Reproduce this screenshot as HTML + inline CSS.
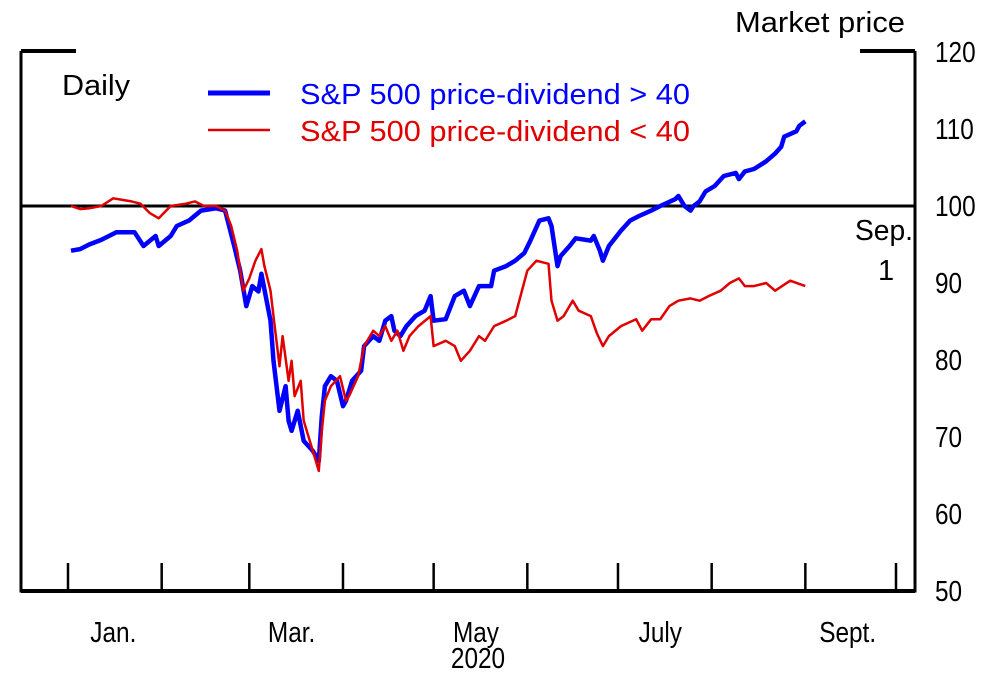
<!DOCTYPE html>
<html><head><meta charset="utf-8"><style>
html,body{margin:0;padding:0;background:#fff;}
svg{display:block;font-family:"Liberation Sans Narrow","Liberation Sans",sans-serif;}
</style></head><body>
<svg id="chart" width="1000" height="682" viewBox="0 0 1000 682" xmlns="http://www.w3.org/2000/svg">
<g id="frame"></g>
<g id="ylabels"></g>
<g id="xlabels"></g>
<g id="series"></g>
<text x="735" y="32" font-size="29" textLength="170" lengthAdjust="spacingAndGlyphs">Market price</text>
<text x="62" y="95" font-size="29" textLength="68" lengthAdjust="spacingAndGlyphs">Daily</text>
<line x1="208" y1="93" x2="270" y2="93" stroke="#0000ff" stroke-width="5"/>
<text x="300" y="104" font-size="29" fill="#0000ff" textLength="390" lengthAdjust="spacingAndGlyphs">S&amp;P 500 price-dividend &gt; 40</text>
<line x1="208" y1="130" x2="270" y2="130" stroke="#e00000" stroke-width="2.5"/>
<text x="300" y="141" font-size="29" fill="#e00000" textLength="390" lengthAdjust="spacingAndGlyphs">S&amp;P 500 price-dividend &lt; 40</text>
<text font-size="29"><tspan x="855" y="240" textLength="58" lengthAdjust="spacingAndGlyphs">Sep.</tspan><tspan x="878" y="280">1</tspan></text>
</svg>
<script>
// data
const yTicks = [50, 60, 70, 80, 90, 100, 110, 120];
const monthLabels = ["Jan.", "Mar.", "May", "July", "Sept."];
const monthLabelDays = [15, 74, 135, 196, 258];
const monthTickDays = [0, 31, 60, 91, 121, 152, 182, 213, 244, 274];
const highDays = [1,4,7,11,16,22,25,29,30,34,36,40,44,49,52,55,57,59,61,63,64,67,68,70,72,73,74,76,78,81,83,84,85,87,89,91,92,94,97,98,101,103,105,107,108,110,112,115,118,120,121,125,128,131,133,136,140,141,145,148,151,153,156,159,160,162,163,166,168,173,174,176,177,179,183,186,189,193,196,201,202,204,206,207,209,211,214,217,221,222,224,227,231,234,236,237,241,242,244];
const highValues = [94.2,94.4,95.0,95.6,96.6,96.6,94.8,96.1,94.8,96.1,97.4,98.1,99.4,99.7,99.4,94.8,91.6,87.0,89.6,88.9,91.2,85.1,79.9,73.4,76.6,72.1,70.8,73.4,69.5,68.2,66.9,72.7,76.6,77.9,77.3,74.0,74.7,77.3,78.6,81.8,83.1,82.5,85.1,85.7,83.8,83.1,84.4,85.7,86.4,88.3,85.1,85.3,88.3,89.0,87.0,89.6,89.6,91.6,92.2,92.9,93.9,95.5,98.1,98.4,97.4,92.2,93.5,94.8,95.8,95.5,96.1,94.2,92.9,94.8,96.8,98.1,98.7,99.4,100.0,100.9,101.3,100.0,99.4,100.0,100.6,101.9,102.6,103.9,104.3,103.5,104.5,104.8,105.8,106.8,107.7,109.0,109.7,110.4,111.0];
const lowDays = [1,4,7,11,15,21,24,27,30,34,39,42,45,49,52,54,56,58,60,62,64,65,67,68,70,71,73,74,75,77,78,80,82,83,84,85,87,90,92,93,96,98,101,103,105,107,109,111,113,116,120,121,125,128,130,133,136,138,141,145,148,152,155,159,160,162,164,167,169,173,175,177,179,183,188,190,193,196,199,202,206,209,212,216,219,222,224,227,231,234,239,244];
const lowValues = [100,99.6,99.7,100,101.0,100.6,100.3,99.1,98.4,100,100.3,100.6,100,100,99.4,97.4,94.2,89.0,90.6,92.9,94.4,92.2,89.0,85.7,79.2,83.1,77.3,79.9,75.3,77.3,72.1,69.5,66.9,65.6,70.8,74.7,76.6,77.9,74.7,75.3,77.9,81.8,83.8,83.1,84.4,82.5,83.8,81.2,83.1,84.4,85.7,81.8,82.5,81.8,79.9,81.2,83.1,82.5,84.4,85.1,85.7,91.6,92.9,92.5,87.7,85.1,85.7,87.7,86.4,85.7,83.5,81.8,83.1,84.4,85.3,83.8,85.3,85.3,87.0,87.7,88.0,87.7,88.3,89.0,90.0,90.6,89.6,89.6,90.0,89.0,90.3,89.6];
const refValue = 100;

const NS = "http://www.w3.org/2000/svg";
const X0 = 68, X1 = 896, D1 = 274;
const Y50 = 591, Y120 = 52;
function xs(d){ return X0 + (d / D1) * (X1 - X0); }
function ys(v){ return Y50 + (v - 50) / 70 * (Y120 - Y50); }
function mk(tag, attrs, parent){ const e = document.createElementNS(NS, tag); for (const k in attrs) e.setAttribute(k, attrs[k]); parent.appendChild(e); return e; }
function condense(t){ const w = t.getComputedTextLength(); t.setAttribute('textLength', (w * 0.84).toFixed(1)); t.setAttribute('lengthAdjust', 'spacingAndGlyphs'); }

const frame = document.getElementById('frame');
let e;
e = mk('path', {d:"M21,51 V591 H915 V51", fill:"none", stroke:"#000", "stroke-width":3}, frame);


e = mk('line', {x1:21, y1:51, x2:76, y2:51, stroke:"#000", "stroke-width":4}, frame);


e = mk('line', {x1:860, y1:51, x2:915, y2:51, stroke:"#000", "stroke-width":4}, frame);


e = mk('line', {x1:21, y1:591, x2:915, y2:591, stroke:"#000", "stroke-width":4}, frame);


monthTickDays.forEach(d => {
  const t = mk('line', {x1:xs(d), y1:591, x2:xs(d), y2:563, stroke:"#000", "stroke-width":2.5}, frame);
  
  
});
e = mk('line', {x1:21, y1:ys(refValue), x2:915, y2:ys(refValue), stroke:"#000", "stroke-width":3}, frame);



const yl = document.getElementById('ylabels');
yTicks.forEach(v => {
  const t = mk('text', {x:935, y:ys(v) + 10, "font-size":29}, yl);
  t.textContent = v;
  
  
  condense(t);
});
const xl = document.getElementById('xlabels');
monthLabels.forEach((m, i) => {
  const t = mk('text', {x:xs(monthLabelDays[i]), y:642, "font-size":29, "text-anchor":"middle"}, xl);
  t.textContent = m;
  
  
  condense(t);
});
e = mk('text', {x:478, y:668, "font-size":29, "text-anchor":"middle"}, xl);
e.textContent = "2020";


condense(e);

const sg = document.getElementById('series');
function line(days, vals, color, w){
  return mk('polyline', {points: days.map((d,i) => xs(d).toFixed(1) + "," + ys(vals[i]).toFixed(1)).join(" "), fill:"none", stroke:color, "stroke-width":w, "stroke-linejoin":"round"}, sg);
}
e = line(highDays, highValues, "#0000ff", 4.5);


e = line(lowDays, lowValues, "#e00000", 2.5);


</script>
</body></html>
